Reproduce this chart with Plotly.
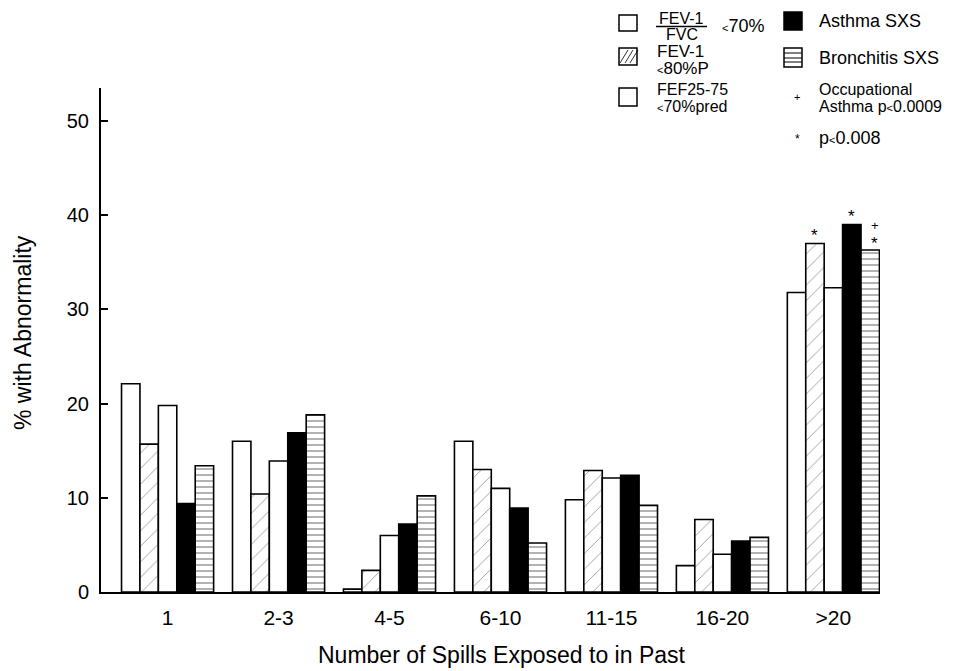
import plotly.graph_objects as go

categories = ["1", "2-3", "4-5", "6-10", "11-15", "16-20", ">20"]
fev1_fvc = [22.1, 16.0, 0.3, 16.0, 9.8, 2.8, 31.8]
fev1_80 = [15.7, 10.4, 2.3, 13.0, 12.9, 7.7, 37.0]
fef2575 = [19.8, 13.9, 6.0, 11.0, 12.1, 4.0, 32.3]
asthma = [9.4, 16.9, 7.2, 8.9, 12.4, 5.4, 39.0]
bronchitis = [13.4, 18.8, 10.2, 5.2, 9.2, 5.8, 36.3]
y_ticks = [0, 10, 20, 30, 40, 50]

FONT = "Liberation Sans, Arial, Helvetica, sans-serif"
OFF = 8  # default page body margin
W, H = 976 - OFF, 671 - OFF
# plot area in page pixels: x 101..880, y 88..592
L, R, T, B = 101 - OFF, 976 - 880, 88 - OFF, 671 - 592
BARGAP = 0.17
NSER = 5

xs = list(range(len(categories)))
fig = go.Figure()

line = dict(color="black", width=1.6)
fig.add_trace(go.Bar(x=xs, y=fev1_fvc, marker=dict(color="white", line=line), name="FEV-1/FVC"))
fig.add_trace(go.Bar(x=xs, y=fev1_80, marker=dict(color="white", line=line,
                    pattern=dict(shape="/", fgcolor="#333", size=11, solidity=0.08)), name="FEV-1 <80%P"))
fig.add_trace(go.Bar(x=xs, y=fef2575, marker=dict(color="white", line=line), name="FEF25-75"))
fig.add_trace(go.Bar(x=xs, y=asthma, marker=dict(color="black", line=line), name="Asthma SXS"))
fig.add_trace(go.Bar(x=xs, y=bronchitis, marker=dict(color="white", line=line,
                    pattern=dict(shape="-", fgcolor="black", size=6, solidity=0.2)), name="Bronchitis SXS"))

# significance markers on >20 group
bw = (1 - BARGAP) / NSER
gi = len(categories) - 1
def sx(k):
    return gi + (k - (NSER - 1) / 2) * bw
ann = []
ann.append(dict(x=sx(1), y=fev1_80[gi], text="*", yshift=8, font=dict(size=17)))
ann.append(dict(x=sx(3), y=asthma[gi], text="*", yshift=8, font=dict(size=17)))
ann.append(dict(x=sx(4) + 0.04, y=bronchitis[gi], text="*", yshift=7, font=dict(size=17)))
ann.append(dict(x=sx(4) + 0.04, y=bronchitis[gi], text="+", yshift=25, font=dict(size=13)))
for a in ann:
    a["font"].update(family=FONT, color="black")
    a.update(xref="x", yref="y", showarrow=False)

pw = W - L - R
ph = H - T - B
def px(x):
    return (x - OFF - L) / pw
def py(y):
    return (H - B - (y - OFF)) / ph

def txt(x, y, s, size=17, xanchor="left", angle=0):
    return dict(x=px(x), y=py(y), xref="paper", yref="paper", text=s, showarrow=False,
                xanchor=xanchor, yanchor="middle", textangle=angle,
                font=dict(family=FONT, size=size, color="black"))

small_lt = "<span style='font-size:11px'>&lt;</span>"
ann += [
    txt(681, 18, "FEV-1", size=16, xanchor="center"),
    txt(682, 35, "FVC", size=16, xanchor="center"),
    txt(720, 26, small_lt + "70%", size=18),
    txt(655, 51, "FEV-1"),
    txt(655, 69, small_lt + "80%P"),
    txt(655, 89, "FEF25-75", size=16),
    txt(655, 107, small_lt + "70%pred", size=16),
    txt(817, 21, "Asthma SXS", size=18),
    txt(817, 58, "Bronchitis SXS", size=18),
    txt(797, 97, "+", size=11, xanchor="center"),
    txt(817, 89, "Occupational", size=16),
    txt(817, 107, "Asthma p" + small_lt + "0.0009", size=16),
    txt(797, 139, "*", size=12, xanchor="center"),
    txt(817, 138, "p" + small_lt + "0.008", size=18),
    txt(502, 655, "Number of Spills Exposed to in Past", size=23, xanchor="center"),
    txt(23, 333, "% with Abnormality", size=23, xanchor="center", angle=-90),
]

shapes = []
def rect(x0, y0, x1, y1, fill="white"):
    shapes.append(dict(type="rect", xref="paper", yref="paper", x0=px(x0), x1=px(x1),
                       y0=py(y1), y1=py(y0), fillcolor=fill, line=dict(color="black", width=1.5)))
def seg(x0, y0, x1, y1, w=1.2):
    shapes.append(dict(type="line", xref="paper", yref="paper", x0=px(x0), x1=px(x1),
                       y0=py(y0), y1=py(y1), line=dict(color="black", width=w)))

rect(619, 15, 637, 31)
seg(656, 26.5, 707, 26.5, 1.3)
rect(619, 48, 637, 65)
for d in (5, 10, 15):
    seg(619 + d - 4, 65 - 2, 619 + d + 4, 48 + 2, 0.8)
rect(619, 88, 637, 106)
rect(784, 12, 802, 30, fill="black")
rect(784, 48, 802, 67)
for yy in (53, 58, 62):
    seg(784, yy, 802, yy, 1.0)

fig.update_layout(
    width=W, height=H,
    margin=dict(l=L, r=R, t=T, b=B, pad=0),
    paper_bgcolor="white", plot_bgcolor="white",
    barmode="group", bargap=BARGAP, bargroupgap=0,
    showlegend=False,
    font=dict(family=FONT, size=18, color="black"),
    annotations=ann, shapes=shapes,
    xaxis=dict(range=[-0.6, len(categories) - 1 + 0.42], tickmode="array", tickvals=xs,
               ticktext=categories, showline=True, linecolor="black", linewidth=2,
               ticks="", showgrid=False, zeroline=False, tickfont=dict(size=21),
               automargin=False, ticklabelstandoff=6),
    yaxis=dict(range=[0, 53.5], tickmode="array", tickvals=y_ticks, showline=True,
               linecolor="black", linewidth=2, ticks="inside", ticklen=7, tickwidth=2,
               tickcolor="black", showgrid=False, zeroline=False, tickfont=dict(size=20),
               automargin=False, ticklabelstandoff=6),
)

fig.write_html("out.html")
